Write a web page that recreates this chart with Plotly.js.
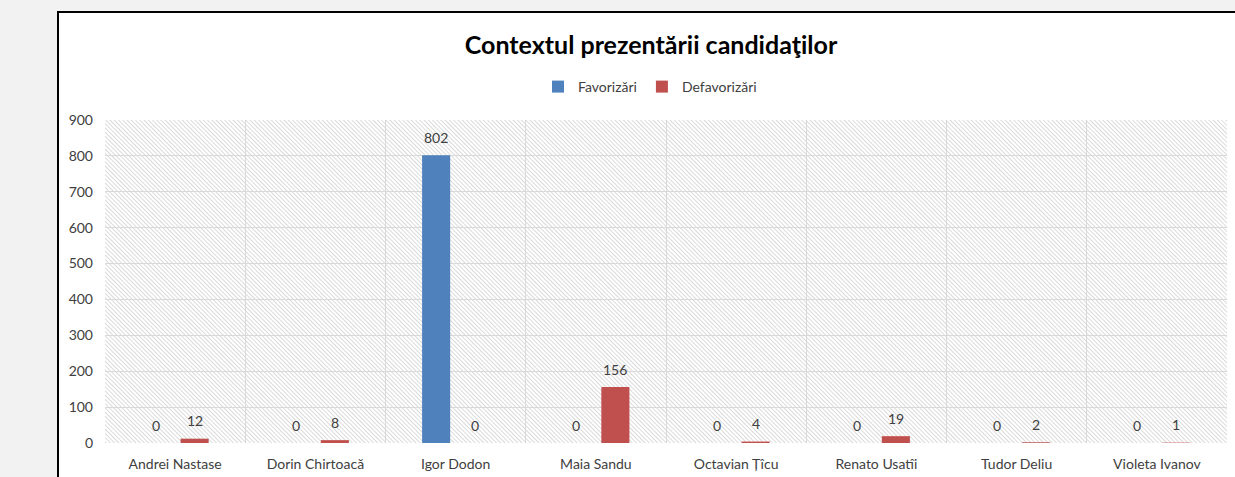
<!DOCTYPE html>
<html>
<head>
<meta charset="utf-8">
<script src="https://cdn.plot.ly/plotly-3.0.1.min.js"></script>
<style>html,body{margin:0;padding:0;background:#fff;}#chart{width:1235px;height:477px;}</style>
</head>
<body>
<div id="chart"></div>
<script>
var categories = ["Andrei Nastase", "Dorin Chirtoacă", "Igor Dodon", "Maia Sandu", "Octavian Țîcu", "Renato Usatîi", "Tudor Deliu", "Violeta Ivanov"];
var favorizari = [0, 0, 802, 0, 0, 0, 0, 0];
var defavorizari = [12, 8, 0, 156, 4, 19, 2, 1];
var seriesNames = ["Favorizări", "Defavorizări"];
var yTicks = [0, 100, 200, 300, 400, 500, 600, 700, 800, 900];
var titleText = "Contextul prezentării candidaţilor";

var FONT = "Lato, 'Open Sans', sans-serif";
var L = 105, R = 8, T = 120, B = 34, WIDTH = 1235, HEIGHT = 477;
var PW = WIDTH - L - R, PH = HEIGHT - T - B;
function px(x) { return (x - L) / PW; }
function py(y) { return (HEIGHT - B - y) / PH; }

var BARGAP = 0.444, GROUPGAP = 0.28;
var slot = (PW / categories.length) * (1 - BARGAP) / 2;

var hatch = '<svg xmlns="http://www.w3.org/2000/svg" width="' + PW + '" height="' + PH + '">' +
  '<defs><pattern id="p" width="3" height="3" patternUnits="userSpaceOnUse" patternTransform="rotate(-45)">' +
  '<rect width="3" height="3" fill="#ffffff"/>' +
  '<line x1="0.5" y1="0" x2="0.5" y2="3" stroke="#dadada" stroke-width="1"/></pattern></defs>' +
  '<rect width="' + PW + '" height="' + PH + '" fill="url(#p)"/></svg>';
var hatchUri = 'data:image/svg+xml;base64,' + btoa(hatch);

var data = [
  {type: 'bar', name: seriesNames[0], x: categories, y: favorizari,
   marker: {color: '#4f81bd'}, hoverinfo: 'none'},
  {type: 'bar', name: seriesNames[1], x: categories, y: defavorizari,
   marker: {color: '#c0504d'}, hoverinfo: 'none'}
];

var labelFont = {family: FONT, size: 14, color: '#404040'};
var annotations = [];
[favorizari, defavorizari].forEach(function (vals, s) {
  vals.forEach(function (v, i) {
    annotations.push({x: categories[i], y: v, xref: 'x', yref: 'y', text: String(v), showarrow: false,
      xanchor: 'center', yanchor: 'middle', xshift: (s === 0 ? -1 : 1) * slot / 2, yshift: 18, font: labelFont});
  });
});

var layout = {
  width: WIDTH, height: HEIGHT,
  margin: {l: L, r: R, t: T, b: B, pad: 0},
  paper_bgcolor: '#ffffff', plot_bgcolor: 'rgba(0,0,0,0)',
  font: {family: FONT, color: '#404040', size: 14},
  barmode: 'group', bargap: BARGAP, bargroupgap: GROUPGAP,
  title: {text: '<b>' + titleText + '</b>', font: {family: FONT, size: 25, color: '#000000'},
          xref: 'paper', x: px(651), xanchor: 'center', yref: 'container', y: 1 - 45 / HEIGHT, yanchor: 'middle'},
  showlegend: true,
  legend: {orientation: 'h', x: px(650), xanchor: 'center', y: py(87), yanchor: 'middle',
           font: {family: FONT, size: 14, color: '#404040'}, bgcolor: 'rgba(0,0,0,0)', itemwidth: 30, traceorder: 'normal'},
  xaxis: {type: 'category', tickson: 'boundaries', showgrid: true, gridcolor: '#d9d9d9', gridwidth: 1,
          showline: false, zeroline: false, ticks: '', tickfont: {family: FONT, size: 14, color: '#404040'},
          ticklabelstandoff: 11, fixedrange: true},
  yaxis: {range: [0, 900], tickvals: yTicks, ticktext: yTicks.map(String), showgrid: true, gridcolor: '#d9d9d9', gridwidth: 1,
          showline: false, zeroline: false, ticks: '', tickfont: {family: FONT, size: 14, color: '#404040'},
          ticklabelstandoff: 11, fixedrange: true},
  annotations: annotations,
  images: [{source: hatchUri, xref: 'paper', yref: 'paper', x: 0, y: 1, sizex: 1, sizey: 1,
            xanchor: 'left', yanchor: 'top', sizing: 'stretch', layer: 'below'}],
  shapes: [
    {type: 'rect', xref: 'paper', yref: 'paper', x0: px(0), x1: px(57), y0: py(HEIGHT + 2), y1: py(-2),
     fillcolor: '#f2f2f2', line: {width: 0}, layer: 'below'},
    {type: 'rect', xref: 'paper', yref: 'paper', x0: px(0), x1: px(WIDTH + 2), y0: py(11), y1: py(-2),
     fillcolor: '#f2f2f2', line: {width: 0}, layer: 'below'},
    {type: 'line', xref: 'paper', yref: 'paper', x0: px(58), x1: px(58), y0: py(HEIGHT + 2), y1: py(12),
     line: {color: '#000000', width: 2}, layer: 'above'},
    {type: 'line', xref: 'paper', yref: 'paper', x0: px(57), x1: px(WIDTH + 2), y0: py(12), y1: py(12),
     line: {color: '#000000', width: 2}, layer: 'above'}
  ]
};

Plotly.newPlot('chart', data, layout, {staticPlot: true, displayModeBar: false});
</script>
</body>
</html>
